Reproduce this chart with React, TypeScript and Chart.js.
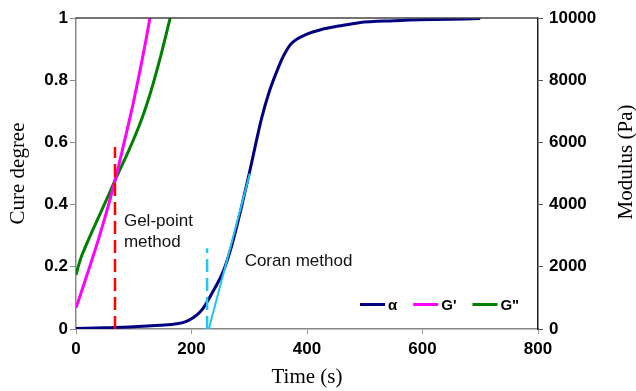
import React, { useEffect, useRef } from 'react';
import { Chart, registerables } from 'chart.js';

Chart.register(...registerables);

// ---- data ----
const alphaTime = [0, 50, 100, 145, 175, 190, 200, 210, 220, 228, 240, 250, 258, 270, 285, 300, 310, 321, 335, 347, 359, 373, 400, 425, 455, 490, 550, 620, 700];
const alphaValues = [0.002, 0.004, 0.007, 0.012, 0.017, 0.024, 0.033, 0.046, 0.066, 0.09, 0.13, 0.165, 0.2, 0.27, 0.38, 0.5, 0.585, 0.675, 0.765, 0.825, 0.877, 0.918, 0.948, 0.963, 0.974, 0.985, 0.991, 0.995, 0.998];

const gPrimeTime = [0, 10, 20, 30, 41, 55, 68, 80, 90, 99, 110, 120, 128, 133];
const gPrimeValues = [680, 1230, 1790, 2360, 3010, 3900, 4800, 5730, 6520, 7250, 8230, 9180, 10000, 10520];

const gDoubleTime = [0, 5, 10, 16, 26, 36, 46, 56, 67.5, 78, 88, 98, 108, 118, 128, 138, 147, 155, 163, 168];
const gDoubleValues = [1740, 2080, 2360, 2630, 3060, 3470, 3880, 4290, 4780, 5200, 5600, 6020, 6470, 6970, 7540, 8180, 8800, 9390, 10000, 10420];

const gelPointTime = [67.5, 67.5];
const gelPointLine = [0, 0.585];
const coranOnsetTime = [227, 227];
const coranOnsetLine = [0, 0.26];
const coranTangentTime = [230, 301];
const coranTangentValues = [0, 0.5];

const legendLabels = ['α', "G'", 'G"'];
const xTicks = [0, 200, 400, 600, 800];
const cureTicks = [0, 0.2, 0.4, 0.6, 0.8, 1];
const modulusTicks = [0, 2000, 4000, 6000, 8000, 10000];

const pts = (xs: number[], ys: number[]) => xs.map((x, i) => ({ x, y: ys[i] }));

const SANS = "'Liberation Sans', Arial, sans-serif";
const SERIF = "'Liberation Serif', 'Times New Roman', serif";

const NAVY = '#000080';
const MAGENTA = '#FF00FF';
const GREEN = '#008000';
const RED = '#FF0000';
const CYAN = '#22C4F4';

export default function App() {
  const ref = useRef<HTMLCanvasElement>(null);

  useEffect(() => {
    if (!ref.current) return;

    const overlay = {
      id: 'overlay',
      afterDraw(chart: any) {
        const { ctx, chartArea } = chart;
        const xs = chart.scales.x;
        const ys = chart.scales.y;
        ctx.save();
        // top frame line
        ctx.strokeStyle = '#444';
        ctx.lineWidth = 1.5;
        ctx.beginPath();
        ctx.moveTo(chartArea.left, chartArea.top);
        ctx.lineTo(chartArea.right, chartArea.top);
        ctx.stroke();

        // axis titles
        ctx.fillStyle = '#000';
        ctx.font = `21px ${SERIF}`;
        ctx.textAlign = 'center';
        ctx.textBaseline = 'middle';
        ctx.save();
        ctx.translate(18, (chartArea.top + chartArea.bottom) / 2);
        ctx.rotate(-Math.PI / 2);
        ctx.fillText('Cure degree', 0, 0);
        ctx.restore();
        ctx.fillText('Time (s)', (chartArea.left + chartArea.right) / 2, 377);
        ctx.save();
        ctx.translate(626, 162);
        ctx.rotate(-Math.PI / 2);
        ctx.fillText('Modulus (Pa)', 0, 0);
        ctx.restore();

        // annotations
        ctx.font = `17px ${SANS}`;
        ctx.textAlign = 'left';
        ctx.fillStyle = '#111';
        ctx.fillText('Gel-point', xs.getPixelForValue(83), ys.getPixelForValue(0.346));
        ctx.fillText('method', xs.getPixelForValue(83), ys.getPixelForValue(0.278));
        ctx.fillText('Coran method', xs.getPixelForValue(292), ys.getPixelForValue(0.217));

        // legend
        ctx.font = `bold 15px ${SANS}`;
        let lx = chartArea.right - 178;
        const ly = chartArea.bottom - 24.5;
        chart.data.datasets.forEach((ds: any) => {
          if (!ds.inLegend) return;
          ctx.strokeStyle = ds.borderColor;
          ctx.lineWidth = 3;
          ctx.beginPath();
          ctx.moveTo(lx, ly);
          ctx.lineTo(lx + 25, ly);
          ctx.stroke();
          ctx.fillStyle = '#000';
          ctx.fillText(ds.label, lx + 28, ly + 1);
          lx += 28 + ctx.measureText(ds.label).width + 16;
        });
        ctx.restore();
      },
    };

    const chart = new Chart(ref.current, {
      type: 'line',
      data: {
        datasets: [
          {
            label: legendLabels[0], inLegend: true, order: 2,
            data: pts(alphaTime, alphaValues), yAxisID: 'y',
            borderColor: NAVY, borderWidth: 3, pointRadius: 0, cubicInterpolationMode: 'monotone',
          } as any,
          {
            label: legendLabels[1], inLegend: true, order: 3,
            data: pts(gPrimeTime, gPrimeValues), yAxisID: 'y2',
            borderColor: MAGENTA, borderWidth: 3, pointRadius: 0, cubicInterpolationMode: 'monotone',
          } as any,
          {
            label: legendLabels[2], inLegend: true, order: 4,
            data: pts(gDoubleTime, gDoubleValues), yAxisID: 'y2',
            borderColor: GREEN, borderWidth: 3, pointRadius: 0, cubicInterpolationMode: 'monotone',
          } as any,
          {
            label: 'gel', data: pts(gelPointTime, gelPointLine), yAxisID: 'y', order: 1,
            borderColor: RED, borderWidth: 2.5, borderDash: [13, 6], pointRadius: 0,
          } as any,
          {
            label: 'onset', data: pts(coranOnsetTime, coranOnsetLine), yAxisID: 'y', order: 1,
            borderColor: CYAN, borderWidth: 2.5, borderDash: [13, 6], pointRadius: 0,
          } as any,
          {
            label: 'tangent', data: pts(coranTangentTime, coranTangentValues), yAxisID: 'y', order: 0,
            borderColor: CYAN, borderWidth: 2, pointRadius: 0,
          } as any,
        ],
      },
      options: {
        responsive: false,
        animation: false,
        layout: { padding: { top: 18, left: 0, right: 0, bottom: 0 } },
        plugins: { legend: { display: false }, tooltip: { enabled: false } },
        scales: {
          x: {
            type: 'linear', min: 0, max: 800,
            afterBuildTicks: (s: any) => { s.ticks = xTicks.map((v) => ({ value: v })); },
            afterFit: (s: any) => { s.height = 62; },
            ticks: { color: '#000', font: { family: SANS, size: 17, weight: 'bold' }, padding: 5 },
            grid: { drawOnChartArea: false, tickLength: 5, color: '#999' },
            border: { color: '#888', width: 1.5 },
          },
          y: {
            position: 'left', min: 0, max: 1,
            afterBuildTicks: (s: any) => { s.ticks = cureTicks.map((v) => ({ value: v })); },
            afterFit: (s: any) => { s.width = 76; },
            ticks: { color: '#000', font: { family: SANS, size: 17, weight: 'bold' }, padding: 2, callback: (v: any) => String(v) },
            grid: { drawOnChartArea: false, tickLength: 6, color: '#888' },
            border: { color: '#888', width: 1.5 },
          },
          y2: {
            position: 'right', min: 0, max: 10000,
            afterBuildTicks: (s: any) => { s.ticks = modulusTicks.map((v) => ({ value: v })); },
            afterFit: (s: any) => { s.width = 98; },
            ticks: { color: '#000', font: { family: SANS, size: 17, weight: 'bold' }, padding: 6, callback: (v: any) => String(v) },
            grid: { drawOnChartArea: false, tickLength: 5, color: '#555' },
            border: { color: '#222', width: 1.5 },
          },
        },
      } as any,
      plugins: [overlay],
    });

    return () => chart.destroy();
  }, []);

  return (
    <div style={{ position: 'fixed', left: 0, top: 0, width: 636, height: 391, background: '#fff' }}>
      <canvas ref={ref} width={636} height={391} />
    </div>
  );
}
